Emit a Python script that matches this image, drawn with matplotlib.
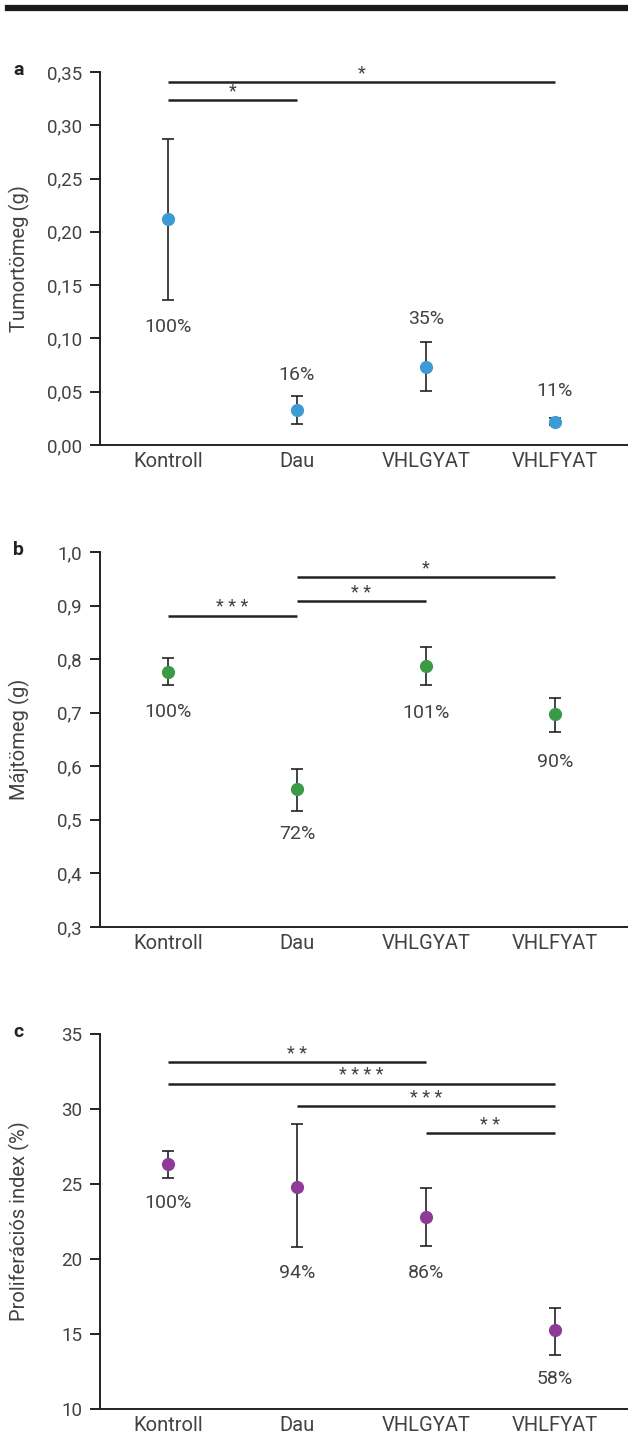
import matplotlib
matplotlib.use("Agg")
import matplotlib.pyplot as plt
from matplotlib.lines import Line2D

plt.rcParams['font.family'] = ['Roboto', 'DejaVu Sans']

categories = ["Kontroll", "Dau", "VHLGYAT", "VHLFYAT"]

# Panel a: tumour mass (g)
a_mean = [0.212, 0.0328, 0.0735, 0.0219]
a_low = [0.136, 0.0197, 0.0509, 0.0185]
a_high = [0.287, 0.0457, 0.0969, 0.0256]
a_pct = ["100%", "16%", "35%", "11%"]
a_pct_y = [0.111, 0.0657, 0.118, 0.051]
a_sig = [(0, 3, 0.3405, "*"), (0, 1, 0.3236, "*")]
a_ticks = [0.0, 0.05, 0.10, 0.15, 0.20, 0.25, 0.30, 0.35]
a_ticklabels = ["0,00", "0,05", "0,10", "0,15", "0,20", "0,25", "0,30", "0,35"]

# Panel b: liver mass (g)
b_mean = [0.776, 0.558, 0.787, 0.698]
b_low = [0.752, 0.516, 0.752, 0.664]
b_high = [0.802, 0.595, 0.823, 0.727]
b_pct = ["100%", "72%", "101%", "90%"]
b_pct_y = [0.701, 0.474, 0.699, 0.608]
b_sig = [(1, 3, 0.953, "*"), (1, 2, 0.908, "* *"), (0, 1, 0.881, "* * *")]
b_ticks = [0.3, 0.4, 0.5, 0.6, 0.7, 0.8, 0.9, 1.0]
b_ticklabels = ["0,3", "0,4", "0,5", "0,6", "0,7", "0,8", "0,9", "1,0"]

# Panel c: proliferation index (%)
c_mean = [26.33, 24.8, 22.8, 15.27]
c_low = [25.4, 20.8, 20.87, 13.6]
c_high = [27.2, 29.0, 24.73, 16.73]
c_pct = ["100%", "94%", "86%", "58%"]
c_pct_y = [23.73, 19.07, 19.07, 12.0]
c_sig = [(0, 2, 33.13, "* *"), (0, 3, 31.67, "* * * *"), (1, 3, 30.2, "* * *"),
         (2, 3, 28.4, "* *")]
c_ticks = [10, 15, 20, 25, 30, 35]
c_ticklabels = ["10", "15", "20", "25", "30", "35"]

W, H = 628, 1435
fig = plt.figure(figsize=(W / 100, H / 100), dpi=100)

TXT = "#424242"
LINE = "#222222"

# top rule
fig.add_artist(Line2D([8 / W, 1.0], [1 - 8 / H, 1 - 8 / H], color="#1a1a1a", lw=4.5,
                      transform=fig.transFigure))

def make_panel(top, bottom, letter, ylabel, ylim, ticks, ticklabels, mean, low, high,
               color, pct, pct_y, sig):
    left = 100
    ax = fig.add_axes([left / W, 1 - bottom / H, (W - left) / W, (bottom - top) / H])
    x = list(range(len(categories)))
    yerr = [[m - l for m, l in zip(mean, low)], [h - m for m, h in zip(mean, high)]]
    ax.errorbar(x, mean, yerr=yerr, fmt="none", ecolor=LINE, elinewidth=1.2,
                capsize=4, capthick=1.2, zorder=2)
    ax.plot(x, mean, "o", color=color, markersize=9.5, zorder=3, mec="none")
    for xi, t, yy in zip(x, pct, pct_y):
        ax.text(xi, yy, t, ha="center", va="center", fontsize=14, color=TXT)
    for i0, i1, yy, lab in sig:
        ax.plot([i0, i1], [yy, yy], color=LINE, lw=1.8, solid_capstyle="butt",
                clip_on=False, zorder=2)
        ax.annotate(lab, xy=((i0 + i1) / 2, yy), xytext=(0, 2.5), textcoords="offset points",
                    ha="center", va="baseline", fontsize=13, color=TXT, annotation_clip=False)
    ax.set_xlim(-0.527, 3.566)
    ax.set_ylim(*ylim)
    ax.set_yticks(ticks)
    ax.set_yticklabels(ticklabels, fontsize=13.5, color=TXT)
    ax.set_xticks(x)
    ax.set_xticklabels(categories, fontsize=14.5, color=TXT)
    ax.tick_params(axis="x", length=0, pad=5)
    ax.tick_params(axis="y", length=7, width=1.4, color=LINE, pad=6)
    for s in ["top", "right"]:
        ax.spines[s].set_visible(False)
    for s in ["left", "bottom"]:
        ax.spines[s].set_linewidth(1.4)
        ax.spines[s].set_color(LINE)
    ax.set_ylabel(ylabel, fontsize=14.5, color=TXT)
    ax.yaxis.set_label_coords(-70 / (W - left), 0.5)
    fig.text(13 / W, 1 - (top - 2) / H, letter, fontsize=14, fontweight="bold",
             color="#222222", ha="left", va="center")
    return ax

make_panel(72, 445, "a", "Tumortömeg (g)", (0, 0.35), a_ticks, a_ticklabels,
           a_mean, a_low, a_high, "#3d9bd4", a_pct, a_pct_y, a_sig)
make_panel(552, 927, "b", "Májtömeg (g)", (0.3, 1.0), b_ticks, b_ticklabels,
           b_mean, b_low, b_high, "#3a9a45", b_pct, b_pct_y, b_sig)
make_panel(1034, 1409, "c", "Proliferációs index (%)", (10, 35), c_ticks, c_ticklabels,
           c_mean, c_low, c_high, "#8e3b98", c_pct, c_pct_y, c_sig)

fig.savefig("out.png", dpi=100)
